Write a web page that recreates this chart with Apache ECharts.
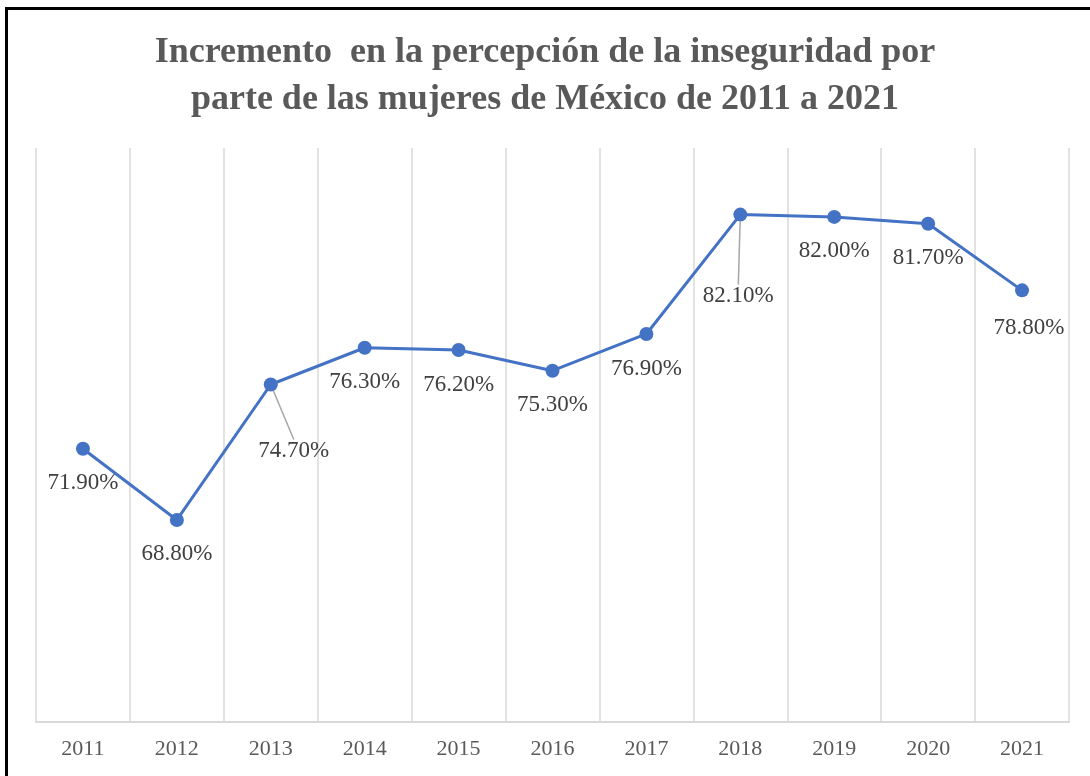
<!DOCTYPE html>
<html>
<head>
<meta charset="utf-8">
<script src="https://cdn.jsdelivr.net/npm/echarts@6/dist/echarts.min.js"></script>
<style>
  html, body { margin: 0; padding: 0; background: #fff; }
  #chart { width: 1090px; height: 776px; position: absolute; left: 0; top: 0; }
  #frame { position: absolute; left: 5px; top: 7px; width: 1100px; height: 800px;
           border-left: 3px solid #000; border-top: 3px solid #000; pointer-events: none; }
</style>
</head>
<body>
<div id="chart"></div>
<div id="frame"></div>
<script>
const titleLines = ['Incremento  en la percepción de la inseguridad por', 'parte de las mujeres de México de 2011 a 2021'];
const years = ['2011','2012','2013','2014','2015','2016','2017','2018','2019','2020','2021'];
const values = [71.9, 68.8, 74.7, 76.3, 76.2, 75.3, 76.9, 82.1, 82.0, 81.7, 78.8];
const leaderIdx = [2, 7];
const labelShift = { 2: [23, 32], 7: [-2, 47], 10: [7, 3] };

const chart = echarts.init(document.getElementById('chart'));
const serif = '"Liberation Serif", "Times New Roman", serif';

chart.setOption({
  animation: false,
  title: {
    text: titleLines.join('\n'),
    left: 'center',
    top: 24,
    textStyle: { fontFamily: serif, fontSize: 36, fontWeight: 'bold', color: '#595959', lineHeight: 47 }
  },
  grid: { left: 36, right: 21, top: 148, bottom: 54, containLabel: false },
  xAxis: {
    type: 'category',
    data: years,
    boundaryGap: true,
    axisLine: { show: true, lineStyle: { color: '#d9d9d9', width: 2 } },
    axisTick: { show: false },
    axisLabel: { fontFamily: serif, fontSize: 22, color: '#595959', margin: 16 },
    splitLine: { show: true, lineStyle: { color: '#d9d9d9', width: 1.5 } }
  },
  yAxis: {
    type: 'value', min: 60, max: 85, show: false,
    splitLine: { show: false }
  },
  series: [{
    type: 'line',
    data: values.map((v, i) => ({
      value: v,
      labelLine: { show: leaderIdx.includes(i), lineStyle: { color: '#a6a6a6', width: 1.5 } }
    })),
    symbol: 'circle',
    symbolSize: 14,
    lineStyle: { color: '#4472C4', width: 3 },
    itemStyle: { color: '#4472C4' },
    label: {
      show: true,
      position: 'bottom',
      distance: 16,
      fontFamily: serif,
      fontSize: 23,
      color: '#404040',
      formatter: p => p.value.toFixed(2) + '%'
    },
    labelLayout: p => {
      const s = labelShift[p.dataIndex];
      return s ? { dx: s[0], dy: s[1] } : {};
    },
    labelLine: { show: false, lineStyle: { color: '#a6a6a6', width: 1.5 } }
  }]
});
</script>
</body>
</html>
